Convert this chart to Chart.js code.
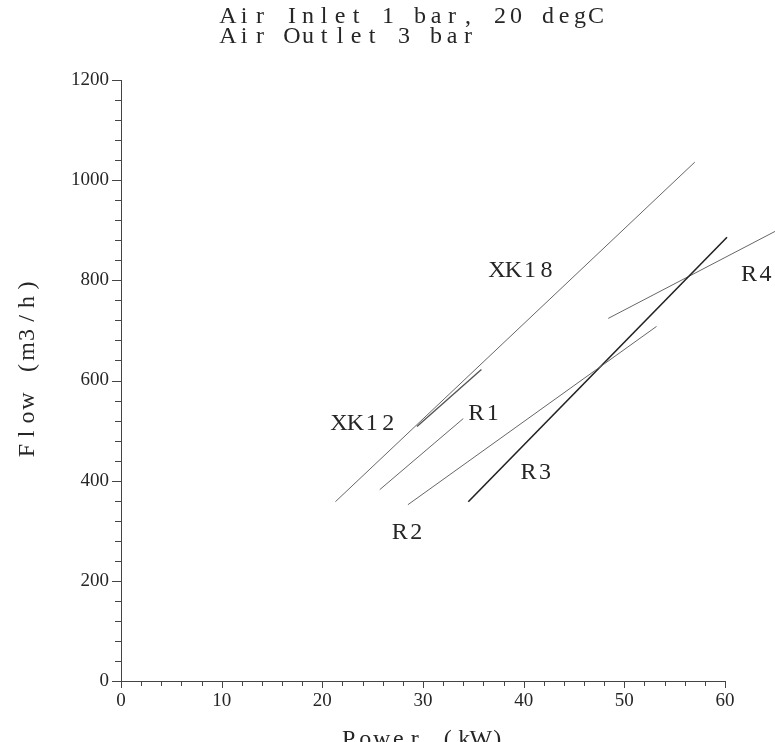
<!DOCTYPE html>
<html>
<head>
<meta charset="utf-8">
<script src="https://cdn.jsdelivr.net/npm/chart.js@4"></script>
<style>
  body { margin: 0; background: #fff; }
  canvas { display: block; }
</style>
</head>
<body>
<canvas id="chart" width="775" height="742"></canvas>
<script>
// Datos
const titleLines = ['Air Inlet 1 bar, 20 degC', 'Air Outlet 3 bar'];
const xTitle = 'Power (kW)';
const yTitle = 'Flow (m3/h)';

const seriesNames = ['XK18', 'XK12', 'R1', 'R2', 'R3', 'R4'];
// extremos de cada recta: [potencia inicial, potencia final]
const seriesPower = [
  [21.3, 57.0],
  [29.4, 35.8],
  [25.7, 34.0],
  [28.5, 53.2],
  [34.5, 60.2],
  [48.4, 65.0]
];
// caudal en esos extremos
const seriesFlow = [
  [358, 1036],
  [508, 622],
  [382, 524],
  [352, 708],
  [358, 886],
  [724, 898]
];
// posición de cada etiqueta en unidades de datos
const labelPower = [39.8, 24.1, 36.1, 28.5, 41.3, 63.2];
const labelFlow = [820, 513, 533, 297, 415, 812];

const xTicks = [0, 10, 20, 30, 40, 50, 60];
const yTicks = [0, 200, 400, 600, 800, 1000, 1200];

const lineColors = ['#666', '#555', '#666', '#666', '#222', '#666'];
const lineWidths = [1, 1.4, 1, 1, 1.6, 1];

const TEXT_COLOR = '#262626';
const BIG_FONT = '24px "Liberation Serif", serif';

// Dibuja texto con paso fijo por carácter (aspecto monoespaciado)
function drawMono(ctx, text, x, y, pitch, align) {
  const total = text.length * pitch;
  let start = x;
  if (align === 'center') start = x - total / 2;
  ctx.textAlign = 'center';
  for (let i = 0; i < text.length; i++) {
    ctx.fillText(text[i], start + pitch * (i + 0.5), y);
  }
}

const textPlugin = {
  id: 'textPlugin',
  afterDraw(chart) {
    const { ctx, scales: { x, y }, chartArea } = chart;
    ctx.save();
    ctx.fillStyle = TEXT_COLOR;
    ctx.strokeStyle = '#444';
    ctx.lineWidth = 1;

    // marcas mayores y menores de los ejes
    ctx.beginPath();
    for (let v = 0; v <= 1200; v += 40) {
      const py = Math.round(y.getPixelForValue(v)) + 0.5;
      const len = v % 200 === 0 ? 9 : 6;
      ctx.moveTo(chartArea.left, py);
      ctx.lineTo(chartArea.left - len, py);
    }
    for (let v = 0; v <= 60; v += 2) {
      const px = Math.round(x.getPixelForValue(v)) + 0.5;
      const len = v % 10 === 0 ? 7 : 5;
      ctx.moveTo(px, chartArea.bottom);
      ctx.lineTo(px, chartArea.bottom + len);
    }
    ctx.stroke();

    ctx.font = BIG_FONT;
    ctx.textBaseline = 'alphabetic';
    // título
    titleLines.forEach((t, i) => drawMono(ctx, t, 220, 23 + i * 19.5, 16, 'left'));

    // título eje X
    drawMono(ctx, xTitle, (chartArea.left + chartArea.right) / 2, 746, 16.5, 'center');

    // título eje Y
    ctx.save();
    ctx.translate(34, 368);
    ctx.rotate(-Math.PI / 2);
    drawMono(ctx, yTitle, 0, 0, 16.5, 'center');
    ctx.restore();

    // etiquetas de las series
    ctx.textBaseline = 'middle';
    seriesNames.forEach((name, i) => {
      const px = x.getPixelForValue(labelPower[i]);
      const py = y.getPixelForValue(labelFlow[i]);
      drawMono(ctx, name, px, py, 16.5, 'center');
    });
    ctx.restore();
  }
};

const datasets = seriesNames.map((name, i) => ({
  label: name,
  data: seriesPower[i].map((p, j) => ({ x: p, y: seriesFlow[i][j] })),
  showLine: true,
  borderColor: lineColors[i],
  borderWidth: lineWidths[i],
  pointRadius: 0,
  clip: false
}));

new Chart(document.getElementById('chart'), {
  type: 'scatter',
  data: { datasets },
  plugins: [textPlugin],
  options: {
    responsive: false,
    animation: false,
    layout: { padding: { top: 80, right: 50, left: 0, bottom: 0 } },
    plugins: {
      legend: { display: false },
      tooltip: { enabled: false }
    },
    scales: {
      x: {
        type: 'linear',
        min: 0,
        max: 60,
        afterFit: scale => { scale.height = 61; },
        afterBuildTicks: scale => { scale.ticks = xTicks.map(v => ({ value: v })); },
        grid: { display: true, drawOnChartArea: false, drawTicks: false },
        border: { display: true, color: '#444', width: 1 },
        ticks: {
          padding: 9,
          color: TEXT_COLOR,
          font: { family: '"Liberation Serif", serif', size: 19 },
          maxRotation: 0,
          callback: v => String(v)
        }
      },
      y: {
        type: 'linear',
        min: 0,
        max: 1200,
        afterFit: scale => { scale.width = 121; },
        afterBuildTicks: scale => { scale.ticks = yTicks.map(v => ({ value: v })); },
        grid: { display: true, drawOnChartArea: false, drawTicks: false },
        border: { display: true, color: '#444', width: 1 },
        ticks: {
          padding: 12,
          color: TEXT_COLOR,
          font: { family: '"Liberation Serif", serif', size: 19 },
          callback: v => String(v)
        }
      }
    }
  }
});
</script>
</body>
</html>
